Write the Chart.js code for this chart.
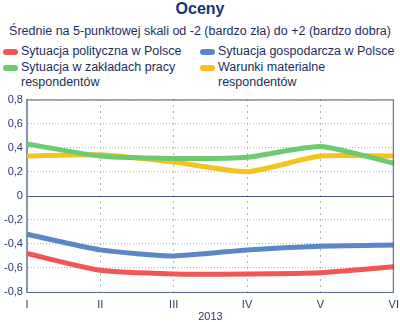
<!DOCTYPE html>
<html>
<head>
<meta charset="utf-8">
<script src="https://cdn.jsdelivr.net/npm/chart.js@4/dist/chart.umd.min.js"></script>
<style>
	body { margin: 0; width: 400px; height: 322px; background: #fff; font-family: "Liberation Sans", Arial, sans-serif; position: relative; overflow: hidden; }
	.title { position: absolute; top: 0; left: 0; width: 400px; text-align: center; font-weight: bold; font-size: 16px; color: #15317a; }
	.subtitle { position: absolute; top: 24px; left: 0; width: 400px; text-align: center; font-size: 12.5px; color: #1c2d5a; }
	.leg { position: absolute; font-size: 12.5px; color: #1c2d5a; line-height: 15px; }
	.sw { position: absolute; width: 15px; height: 6px; border-radius: 3px; }
	.chart-box { position: absolute; left: 0; top: 90px; width: 406px; height: 232px; }
</style>
</head>
<body>
<div class="title">Oceny</div>
<div class="subtitle">Średnie na 5-punktowej skali od -2 (bardzo zła) do +2 (bardzo dobra)</div>
<div id="legend"></div>
<div class="chart-box"><canvas id="c"></canvas></div>
<script>
	// Data
	const months = ["I", "II", "III", "IV", "V", "VI"];
	const seriesNames = [
		"Sytuacja polityczna w Polsce",
		"Sytuacja gospodarcza w Polsce",
		"Sytuacja w zakładach pracy respondentów",
		"Warunki materialne respondentów",
	];
	const polityczna = [-0.48, -0.62, -0.65, -0.65, -0.64, -0.59];
	const gospodarcza = [-0.32, -0.45, -0.50, -0.45, -0.42, -0.41];
	const zaklady = [0.43, 0.33, 0.31, 0.32, 0.41, 0.27];
	const warunki = [0.33, 0.34, 0.28, 0.20, 0.33, 0.33];
	const yTicks = [-0.8, -0.6, -0.4, -0.2, 0, 0.2, 0.4, 0.6, 0.8];

	const colors = ["#f25556", "#5b87c6", "#6ccb6e", "#f5c31b"];
	const values = [polityczna, gospodarcza, zaklady, warunki];

	// HTML legend (wrapped labels)
	const legendPos = [
		{ x: 3, y: 44, w: 185 },
		{ x: 200, y: 44, w: 185 },
		{ x: 3, y: 60, w: 165 },
		{ x: 200, y: 60, w: 140 },
	];
	const legendEl = document.getElementById("legend");
	seriesNames.forEach((name, i) => {
		const p = legendPos[i];
		legendEl.innerHTML += `
			<div class="sw" style="left:${p.x}px;top:${p.y + 5}px;background:${colors[i]}"></div>
			<div class="leg" style="left:${p.x + 18}px;top:${p.y}px;width:${p.w}px">${name}</div>`;
	});

	// frame + zero line
	const framePlugin = {
		id: "frame",
		afterDraw(chart) {
			const { ctx, chartArea: a, scales } = chart;
			ctx.save();
			ctx.strokeStyle = "#4c5c82";
			ctx.lineWidth = 1;
			ctx.beginPath();
			ctx.moveTo(a.left, a.top + 0.5);
			ctx.lineTo(a.right - 0.5, a.top + 0.5);
			ctx.lineTo(a.right - 0.5, a.bottom);
			ctx.stroke();
			const y0 = Math.round(scales.y.getPixelForValue(0)) + 0.5;
			ctx.beginPath();
			ctx.moveTo(a.left, y0);
			ctx.lineTo(a.right, y0);
			ctx.stroke();
			ctx.restore();
		},
	};

	const fontTick = { family: "'Liberation Sans', Arial, sans-serif", size: 11, lineHeight: 1 };

	new Chart(document.getElementById("c"), {
		type: "line",
		data: {
			labels: months,
			datasets: values.map((v, i) => ({
				label: seriesNames[i],
				data: v,
				borderColor: colors[i],
				backgroundColor: colors[i],
				borderWidth: 5,
				pointRadius: 0,
				tension: 0.2,
			})),
		},
		options: {
			responsive: true,
			maintainAspectRatio: false,
			animation: false,
			layout: { padding: { top: 4, left: 0, right: 0, bottom: 0 } },
			plugins: { legend: { display: false }, tooltip: { enabled: false } },
			scales: {
				x: {
					offset: false,
					afterFit: (s) => { s.height = 30; },
					grid: { color: "#5a6478", lineWidth: 1, drawTicks: false },
					border: { display: true, color: "#5a6a90", width: 1, dash: (c) => (c.type === "tick" ? [1, 5] : []) },
					ticks: { color: "#2a3a6a", font: fontTick, autoSkip: false, maxRotation: 0, padding: 7 },
					title: { display: true, text: "2013", color: "#2a3a6a", font: fontTick, padding: { top: 3, bottom: 0 } },
				},
				y: {
					min: -0.8,
					max: 0.8,
					afterBuildTicks: (s) => { s.ticks = yTicks.map((v) => ({ value: v })); },
					grid: { color: (c) => (c.tick && c.tick.value === 0 ? "rgba(0,0,0,0)" : "#b4b8c2"), drawTicks: false },
					border: { display: true, color: "#8594b4", width: 2, dash: (c) => (c.type === "tick" ? [1, 2] : []) },
					ticks: {
						color: "#2a3a6a",
						font: fontTick,
						padding: 4,
						callback: (v) => (v === 0 ? "0" : v.toFixed(1).replace(".", ",")),
					},
				},
			},
		},
		plugins: [framePlugin],
	});
</script>
</body>
</html>
